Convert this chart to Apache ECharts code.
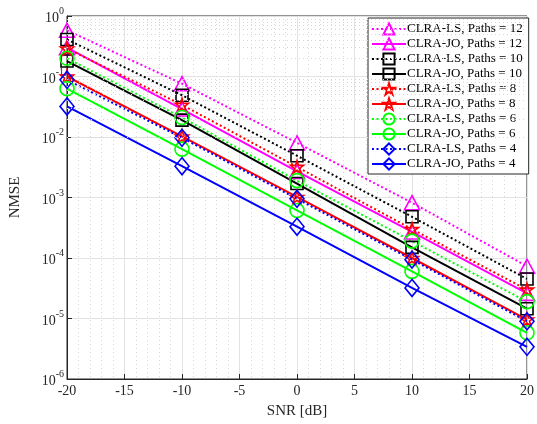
<!DOCTYPE html>
<html>
<head>
<meta charset="utf-8">
<script src="https://cdn.jsdelivr.net/npm/echarts@6/dist/echarts.min.js"></script>
<style>
html,body{margin:0;padding:0;background:#fff;}
#main{width:537px;height:424px;}
</style>
</head>
<body>
<div id="main"></div>
<script>
// SNR 横轴
var snr = [-20, -10, 0, 10, 20];
var xTicks = [-20, -15, -10, -5, 0, 5, 10, 15, 20];
var yTicks = [1e-6, 1e-5, 1e-4, 1e-3, 1e-2, 1e-1, 1];

// NMSE 数据
var ls12 = [0.58, 0.076, 0.0080, 8.2e-4, 7.3e-5];
var jo12 = [0.30, 0.029, 0.0027, 2.7e-4, 2.6e-5];
var ls10 = [0.41, 0.049, 0.0049, 4.8e-4, 4.5e-5];
var jo10 = [0.18, 0.019, 0.0017, 1.5e-4, 1.45e-5];
var ls8 = [0.29, 0.034, 0.0032, 3.0e-4, 3.0e-5];
var jo8 = [0.10, 0.0102, 0.00102, 1.0e-4, 9.6e-6];
var ls6 = [0.20, 0.021, 0.0019, 1.9e-4, 1.9e-5];
var jo6 = [0.063, 0.0063, 6.1e-4, 6.0e-5, 5.8e-6];
var ls4 = [0.088, 0.0097, 9.5e-4, 9.4e-5, 9.0e-6];
var jo4 = [0.032, 0.0033, 3.3e-4, 3.2e-5, 3.4e-6];

var names = ['CLRA-LS, Paths = 12', 'CLRA-JO, Paths = 12', 'CLRA-LS, Paths = 10', 'CLRA-JO, Paths = 10',
	'CLRA-LS, Paths = 8', 'CLRA-JO, Paths = 8', 'CLRA-LS, Paths = 6', 'CLRA-JO, Paths = 6',
	'CLRA-LS, Paths = 4', 'CLRA-JO, Paths = 4'];

var star = 'path://M50 0 L61.2 34.5 L97.6 34.5 L68.2 55.9 L79.4 90.5 L50 69.1 L20.6 90.5 L31.8 55.9 L2.4 34.5 L38.8 34.5 Z';
var font = '"Liberation Serif", "Times New Roman", serif';

function pairs(vals){
	var out = [];
	for (var i = 0; i < snr.length; i++) out.push([snr[i], vals[i]]);
	return out;
}

function mk(name, vals, color, dotted, symbol, size){
	return {
		name: name,
		type: 'line',
		data: pairs(vals),
		symbol: symbol,
		symbolSize: size,
		showAllSymbol: true,
		lineStyle: {color: color, width: 2, type: dotted ? [2, 2.5] : 'solid'},
		itemStyle: {color: 'rgba(255,255,255,0)', borderColor: color, borderWidth: 1.6},
		emphasis: {disabled: true},
		animation: false
	};
}

var series = [
	mk(names[0], ls12, '#ff00ff', true, 'triangle', [15, 14]),
	mk(names[1], jo12, '#ff00ff', false, 'triangle', [15, 14]),
	mk(names[2], ls10, '#000000', true, 'rect', 12),
	mk(names[3], jo10, '#000000', false, 'rect', 12),
	mk(names[4], ls8, '#ff0000', true, star, 13),
	mk(names[5], jo8, '#ff0000', false, star, 13),
	mk(names[6], ls6, '#00ff00', true, 'circle', 14),
	mk(names[7], jo6, '#00ff00', false, 'circle', 14),
	mk(names[8], ls4, '#0000ff', true, 'diamond', [14, 17]),
	mk(names[9], jo4, '#0000ff', false, 'diamond', [14, 17])
];

// 对数轴的次网格线 2..9
var minor = [];
for (var e = -6; e < 0; e++) {
	for (var k = 2; k <= 9; k++) minor.push({yAxis: k * Math.pow(10, e)});
}
series.push({
	type: 'line', data: [], silent: true, z: 1,
	markLine: {
		symbol: 'none', silent: true, animation: false,
		label: {show: false},
		lineStyle: {color: '#d6d6d6', type: [1, 3], width: 1},
		data: minor
	}
});

var myChart = echarts.init(document.getElementById('main'));
var option = {
	backgroundColor: '#fff',
	animation: false,
	grid: {left: 65, right: 5, top: 16, bottom: 40, show: true, borderColor: '#262626', borderWidth: 1},
	legend: {
		data: names,
		orient: 'vertical',
		left: 368, top: 18,
		itemWidth: 34, itemHeight: 14, itemGap: 1,
		padding: [4, 6, 3, 3],
		backgroundColor: '#fff',
		borderColor: '#262626', borderWidth: 1,
		borderRadius: 0,
		textStyle: {fontFamily: font, fontSize: 13, lineHeight: 14, color: '#000', padding: [0, 0, 0, -4]}
	},
	xAxis: {
		type: 'value', min: -20, max: 20, interval: 5,
		name: 'SNR [dB]', nameLocation: 'middle', nameGap: 25,
		nameTextStyle: {fontFamily: font, fontSize: 15, color: '#262626'},
		axisLine: {onZero: false, lineStyle: {color: '#262626'}},
		axisTick: {inside: true, length: 5, lineStyle: {color: '#262626'}},
		axisLabel: {fontFamily: font, fontSize: 14, color: '#262626', margin: 5},
		splitLine: {show: true, lineStyle: {color: '#e3e3e3', width: 1}},
		minorTick: {show: false, splitNumber: 5},
		minorSplitLine: {show: true, lineStyle: {color: '#d6d6d6', type: [1, 3]}}
	},
	yAxis: {
		type: 'log', logBase: 10, min: 1e-6, max: 1,
		name: 'NMSE', nameLocation: 'middle', nameGap: 44, nameRotate: 90,
		nameTextStyle: {fontFamily: font, fontSize: 15, color: '#262626'},
		axisLine: {show: true, onZero: false, lineStyle: {color: '#262626'}},
		axisTick: {inside: true, length: 5, lineStyle: {color: '#262626'}},
		axisLabel: {
			margin: 3,
			formatter: function(v){
				var ex = Math.round(Math.log(v) / Math.LN10);
				return '{b|10}{s|' + ex + '}';
			},
			rich: {
				b: {fontFamily: font, fontSize: 14, color: '#262626', verticalAlign: 'bottom'},
				s: {fontFamily: font, fontSize: 10, color: '#262626', verticalAlign: 'top', padding: [0, 0, 9, 0]}
			}
		},
		splitLine: {show: true, lineStyle: {color: '#e3e3e3', width: 1}}
	},
	series: series
};
myChart.setOption(option);
</script>
</body>
</html>
